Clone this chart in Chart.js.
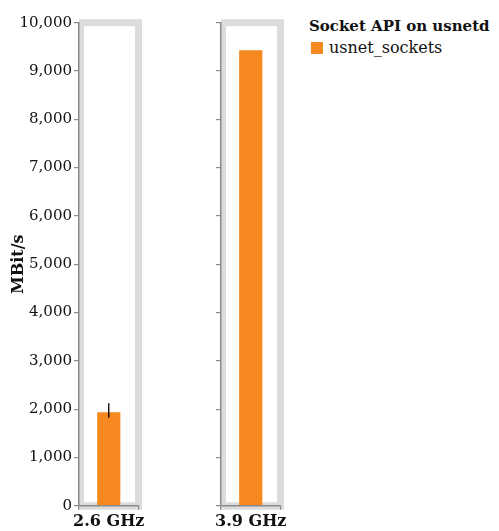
<!DOCTYPE html>
<html>
<head>
<meta charset="utf-8">
<script src="https://cdn.jsdelivr.net/npm/chart.js@4/dist/chart.umd.min.js"></script>
<style>
  body { margin: 0; background: #fff; }
  #wrap { position: relative; width: 499px; height: 531px; }
  canvas { position: absolute; top: 0; }
  #legend { font-family: "DejaVu Serif", serif; color: #111; }
  #legend div, #legend span { position: absolute; white-space: nowrap; }
  #legend .title { left: 309px; top: 17px; font-size: 15px; line-height: 18px; font-weight: bold; }
  #legend .swatch { left: 311px; top: 42px; width: 12px; height: 12px; }
  #legend .item { left: 329px; top: 38px; font-size: 16px; line-height: 19px; }
</style>
</head>
<body>
<div id="wrap">
  <canvas id="panel1" width="145" height="531" style="left:0px"></canvas>
  <canvas id="panel2" width="80" height="531" style="left:211px"></canvas>
  <div id="legend"></div>
</div>
<script>
const categories = ["2.6 GHz", "3.9 GHz"];
const seriesName = "usnet_sockets";
const legendTitle = "Socket API on usnetd";
const throughput = [1935, 9430];
const errLow = [1820, null];
const errHigh = [2120, null];
const yTitle = "MBit/s";

const FONT = "'DejaVu Serif', serif";
const ORANGE = "#F5891F";
const AXIS = "#8a8a8a";
const FRAME = "#dcdcdc";

// gray box around each panel, under the axes
const framePlugin = {
  id: "frame",
  beforeDraw(chart) {
    const { ctx, chartArea: a } = chart;
    ctx.save();
    ctx.fillStyle = FRAME;
    ctx.fillRect(a.left, a.top - 3.5, a.right - a.left + 3.5, a.bottom - a.top + 7.5);
    ctx.fillStyle = "#fff";
    ctx.fillRect(a.left + 5, a.top + 3.5, a.right - a.left - 8.5, a.bottom - a.top - 7);
    ctx.restore();
  },
};

const errorBarPlugin = {
  id: "errorBars",
  afterDatasetsDraw(chart, args, opts) {
    const { ctx, scales } = chart;
    const meta = chart.getDatasetMeta(0);
    meta.data.forEach((bar, i) => {
      const lo = opts.low[i], hi = opts.high[i];
      if (lo == null || hi == null) return;
      ctx.save();
      ctx.strokeStyle = "#000";
      ctx.lineWidth = 1.3;
      ctx.beginPath();
      ctx.moveTo(bar.x, scales.y.getPixelForValue(lo));
      ctx.lineTo(bar.x, scales.y.getPixelForValue(hi));
      ctx.stroke();
      ctx.restore();
    });
  },
};

function makePanel(id, idx, showLabels, padRight) {
  new Chart(document.getElementById(id), {
    type: "bar",
    data: {
      labels: [categories[idx]],
      datasets: [{
        label: seriesName,
        data: [throughput[idx]],
        backgroundColor: ORANGE,
        barPercentage: 0.39,
        categoryPercentage: 1,
      }],
    },
    plugins: [framePlugin, errorBarPlugin],
    options: {
      responsive: false,
      animation: false,
      layout: { padding: { top: 22.7, right: padRight, left: 0, bottom: 0 } },
      plugins: {
        legend: { display: false },
        tooltip: { enabled: false },
        errorBars: { low: [errLow[idx]], high: [errHigh[idx]] },
      },
      scales: {
        x: {
          // labels may spill past the panel; keep the plot width fixed
          afterFit: (s) => { s.height = 25.3; s.paddingLeft = 0; s.paddingRight = 0; },
          border: { display: true, color: AXIS, width: 1.5 },
          grid: { display: true, drawOnChartArea: false, drawTicks: true, tickLength: 4, color: AXIS, lineWidth: 1.2 },
          ticks: { color: "#111", padding: 3, font: { family: FONT, size: 16, weight: "bold" } },
        },
        y: {
          min: 0,
          max: 10000,
          afterFit: (s) => { s.width = showLabels ? 79 : 10; },
          border: { display: true, color: AXIS, width: 1.5 },
          grid: { display: true, drawOnChartArea: false, drawTicks: true, tickLength: 5, color: AXIS, lineWidth: 1.2 },
          ticks: {
            stepSize: 1000,
            padding: 2,
            color: showLabels ? "#111" : "rgba(0,0,0,0)",
            font: { family: FONT, size: 15 },
            callback: (v) => v.toLocaleString("en-US"),
          },
          title: {
            display: showLabels,
            text: yTitle,
            color: "#111",
            padding: { top: 9, bottom: 0 },
            font: { family: FONT, size: 16, weight: "bold" },
          },
        },
      },
    },
  });
}

makePanel("panel1", 0, true, 6.5);
makePanel("panel2", 1, false, 10.5);

const legend = document.getElementById("legend");
legend.innerHTML =
  '<div class="title">' + legendTitle + "</div>" +
  '<span class="swatch" style="background:' + ORANGE + '"></span>' +
  '<div class="item">' + seriesName + "</div>";
</script>
</body>
</html>
